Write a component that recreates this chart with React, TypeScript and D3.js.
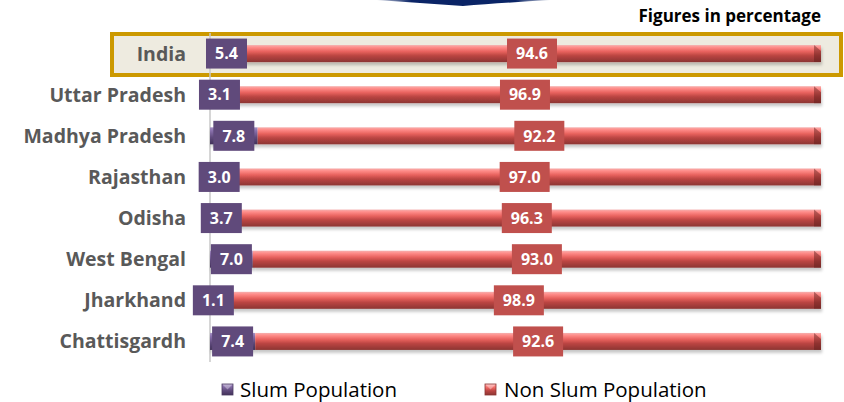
import React from "react";
import * as d3 from "d3";

const categories = ["India", "Uttar Pradesh", "Madhya Pradesh", "Rajasthan", "Odisha", "West Bengal", "Jharkhand", "Chattisgardh"];
const slum = [5.4, 3.1, 7.8, 3.0, 3.7, 7.0, 1.1, 7.4];
const nonSlum = [94.6, 96.9, 92.2, 97.0, 96.3, 93.0, 98.9, 92.6];
const seriesNames = ["Slum Population", "Non Slum Population"];
const note = "Figures in percentage";

const W = 844;
const H = 402;
const FONT = "'Open Sans', Lato, sans-serif";

export default function App() {
  const x = d3.scaleLinear().domain([0, 100]).range([210, 821]);
  const y = d3.scaleBand<string>().domain(categories).range([33, 362]);
  const barH = 17;

  const bar = (x0: number, x1: number, cy: number, grad: string, end: string, bevel: boolean, key: string) => {
    const top = cy - barH / 2;
    return (
      <g key={key}>
        <rect x={x0} y={top} width={Math.max(0, x1 - x0)} height={barH} fill={`url(#${grad})`} filter="url(#sh)" />
        {bevel && (
          <path d={`M${x1 - 7},${top} L${x1},${top + 6} L${x1},${top + barH} L${x1 - 7},${top + barH} Z`} fill={end} opacity={0.45} />
        )}
      </g>
    );
  };

  const legendBox = (lx: number, grad: string, dark: string) => (
    <g>
      <rect x={lx} y={384} width={11} height={11} fill={`url(#${grad})`} />
      <path d={`M${lx},${384} L${lx + 11},${384} L${lx + 5.5},${389.5} Z`} fill="#fff" opacity={0.35} />
      <rect x={lx} y={384} width={11} height={11} fill="none" stroke={dark} strokeWidth={0.8} />
    </g>
  );

  return (
    <svg width={W} height={H} style={{ position: "absolute", left: 0, top: 0, background: "#fff" }}>
      <defs>
        <linearGradient id="gRed" x1="0" y1="0" x2="0" y2="1">
          <stop offset="0" stopColor="#f5b0ae" />
          <stop offset="0.14" stopColor="#ff8c89" />
          <stop offset="0.38" stopColor="#e8625e" />
          <stop offset="0.62" stopColor="#bb4542" />
          <stop offset="1" stopColor="#8c3533" />
        </linearGradient>
        <linearGradient id="gPur" x1="0" y1="0" x2="0" y2="1">
          <stop offset="0" stopColor="#a792c4" />
          <stop offset="0.2" stopColor="#8a71ad" />
          <stop offset="0.6" stopColor="#5f4a7b" />
          <stop offset="1" stopColor="#42325a" />
        </linearGradient>
        <filter id="sh" x="-5%" y="-30%" width="110%" height="180%">
          <feDropShadow dx="1" dy="3" stdDeviation="1.5" floodColor="#000" floodOpacity="0.22" />
        </filter>
        <linearGradient id="banner" x1="0" y1="0" x2="1" y2="0">
          <stop offset="0" stopColor="#0a2466" stopOpacity="0.2" />
          <stop offset="0.2" stopColor="#0a2466" />
          <stop offset="0.8" stopColor="#0a2466" />
          <stop offset="1" stopColor="#0a2466" stopOpacity="0.2" />
        </linearGradient>
      </defs>

      <path d="M377,0 L550,0 Q500,3 463,6 Q420,3 377,0 Z" fill="url(#banner)" />

      <text x={821} y={22} textAnchor="end" fontFamily={FONT} fontWeight={700} fontSize={17} fill="#000">{note}</text>

      <rect x={112} y={34} width={729} height={41} fill="#eeebe0" stroke="#cc9900" strokeWidth={4} />

      <line x1={210} x2={210} y1={33} y2={362} stroke="#c8c8c8" strokeWidth={1.5} />

      {categories.map((c, i) => {
        const cy = (y(c) as number) + y.bandwidth() / 2;
        const xs = x(slum[i]);
        const xe = x(slum[i] + nonSlum[i]);
        const sLabel = slum[i].toFixed(1);
        const nLabel = nonSlum[i].toFixed(1);
        const sw = 41;
        const nw = 50;
        const sc = (x(0) + xs) / 2;
        const nc = (xs + xe) / 2;
        return (
          <g key={c}>
            <text x={186} y={cy} dy="0.36em" textAnchor="end" fontFamily={FONT} fontWeight={700} fontSize={19.5} fill="#595959">{c}</text>
            {bar(x(0), xs, cy, "gPur", "#2e2340", false, "s" + i)}
            {bar(xs, xe, cy, "gRed", "#5a1a18", true, "n" + i)}
            <rect x={sc - sw / 2} y={cy - 15} width={sw} height={30} fill="#604a7b" />
            <text x={sc} y={cy} dy="0.36em" textAnchor="middle" fontFamily={FONT} fontWeight={700} fontSize={16} fill="#fff">{sLabel}</text>
            <rect x={nc - nw / 2} y={cy - 15} width={nw} height={30} fill="#c0504d" />
            <text x={nc} y={cy} dy="0.36em" textAnchor="middle" fontFamily={FONT} fontWeight={700} fontSize={16} fill="#fff">{nLabel}</text>
          </g>
        );
      })}

      <g>
        {legendBox(222, "gPur", "#4a3a60")}
        <text x={240} y={390} dy="0.35em" fontFamily={FONT} fontSize={20.5} fill="#000">{seriesNames[0]}</text>
        {legendBox(485, "gRed", "#8c3533")}
        <text x={504} y={390} dy="0.35em" fontFamily={FONT} fontSize={20.5} fill="#000">{seriesNames[1]}</text>
      </g>
    </svg>
  );
}
